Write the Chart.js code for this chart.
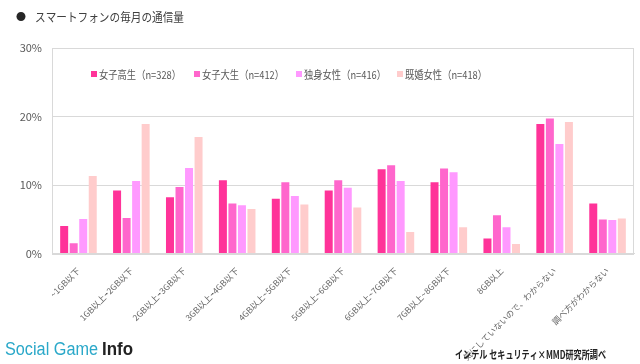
<!DOCTYPE html>
<html>
<head>
<meta charset="utf-8">
<script src="https://cdn.jsdelivr.net/npm/chart.js@4"></script>
<style>
  html, body { margin: 0; padding: 0; background: #fff; }
  #wrap { width: 640px; height: 364px; position: relative; }
</style>
</head>
<body>
<div id="wrap"><canvas id="usageChart" width="640" height="364"></canvas></div>
<script>
// データ
const categories = ["~1GB以下", "1GB以上~2GB以下", "2GB以上~3GB以下", "3GB以上~4GB以下", "4GB以上~5GB以下",
    "5GB以上~6GB以下", "6GB以上~7GB以下", "7GB以上~8GB以下", "8GB以上", "気にしていないので、わからない", "調べ方がわからない"];
const seriesNames = ["女子高生（n=328）", "女子大生（n=412）", "独身女性（n=416）", "既婚女性（n=418）"];
const highSchool = [4.0, 9.2, 8.2, 10.7, 8.0, 9.2, 12.3, 10.4, 2.2, 18.9, 7.3];
const college = [1.5, 5.2, 9.7, 7.3, 10.4, 10.7, 12.9, 12.4, 5.6, 19.7, 4.95];
const single = [5.05, 10.6, 12.5, 7.05, 8.4, 9.6, 10.6, 11.85, 3.85, 16.0, 4.9];
const married = [11.3, 18.9, 17.0, 6.5, 7.15, 6.7, 3.15, 3.85, 1.4, 19.2, 5.1];
const yTicks = [0, 10, 20, 30];

const colors = ["#ff3399", "#ff66cc", "#ff99ff", "#ffcccc"];
const jpFont = "'Noto Sans CJK JP', 'Noto Sans', sans-serif";

// 凡例・枠・タイトル
const decorations = {
    id: "decorations",
    afterDraw(chart) {
        const ctx = chart.ctx;
        const area = chart.chartArea;
        ctx.save();
        // 枠
        ctx.strokeStyle = "#d9d9d9";
        ctx.lineWidth = 1;
        ctx.strokeRect(Math.round(area.left) + 0.5, Math.round(area.top) + 0.5,
            Math.round(area.right - area.left) - 1, Math.round(area.bottom - area.top));

        // 凡例
        const legendX = [91, 194, 296, 397];
        ctx.font = "11px " + jpFont;
        ctx.textBaseline = "middle";
        chart.data.datasets.forEach((ds, i) => {
            ctx.fillStyle = ds.backgroundColor;
            ctx.fillRect(legendX[i], 71, 6, 6);
            ctx.fillStyle = "#595959";
            ctx.fillText(ds.label, legendX[i] + 8, 74.5, 82);
        });

        // タイトル
        ctx.fillStyle = "#262626";
        ctx.font = "10px " + jpFont;
        ctx.fillText("●", 16, 17);
        ctx.fillStyle = "#404040";
        ctx.font = "12px " + jpFont;
        ctx.fillText("スマートフォンの毎月の通信量", 35, 17, 149);

        // 出典
        ctx.fillStyle = "#222";
        ctx.font = "bold 11px " + jpFont;
        ctx.fillText("インテル セキュリティ×MMD研究所調べ", 455, 355, 151);

        // ロゴ
        ctx.textBaseline = "alphabetic";
        ctx.font = "300 18px 'Liberation Sans', Arial, sans-serif";
        ctx.fillStyle = "#2aa8c9";
        ctx.fillText("Social Game", 5, 355, 93);
        ctx.font = "bold 18px 'Liberation Sans', Arial, sans-serif";
        ctx.fillStyle = "#222";
        ctx.fillText("Info", 102, 355, 31);
        ctx.restore();
    }
};

new Chart(document.getElementById("usageChart"), {
    type: "bar",
    data: {
        labels: categories,
        datasets: [highSchool, college, single, married].map((d, i) => ({
            label: seriesNames[i],
            data: d,
            backgroundColor: colors[i],
            categoryPercentage: 0.72,
            barPercentage: 0.84
        }))
    },
    options: {
        responsive: false,
        animation: false,
        layout: { padding: { top: 48, right: 6, left: 0, bottom: 0 } },
        plugins: { legend: { display: false }, tooltip: { enabled: false } },
        scales: {
            x: {
                grid: { display: false },
                border: { color: "#d9d9d9" },
                ticks: {
                    color: "#666",
                    font: { size: 8.5, family: jpFont },
                    minRotation: 45,
                    maxRotation: 45,
                    autoSkip: false,
                    padding: 4
                },
                afterFit(scale) { scale.height = 364 - 253.5; }
            },
            y: {
                min: 0,
                max: 30,
                afterBuildTicks(scale) { scale.ticks = yTicks.map(v => ({ value: v })); },
                grid: { color: "#d9d9d9", drawTicks: false },
                border: { display: false },
                ticks: {
                    color: "#595959",
                    font: { size: 11, family: jpFont },
                    padding: 10,
                    callback: v => v + "%"
                },
                afterFit(scale) { scale.width = 52; }
            }
        }
    },
    plugins: [decorations]
});
</script>
</body>
</html>
